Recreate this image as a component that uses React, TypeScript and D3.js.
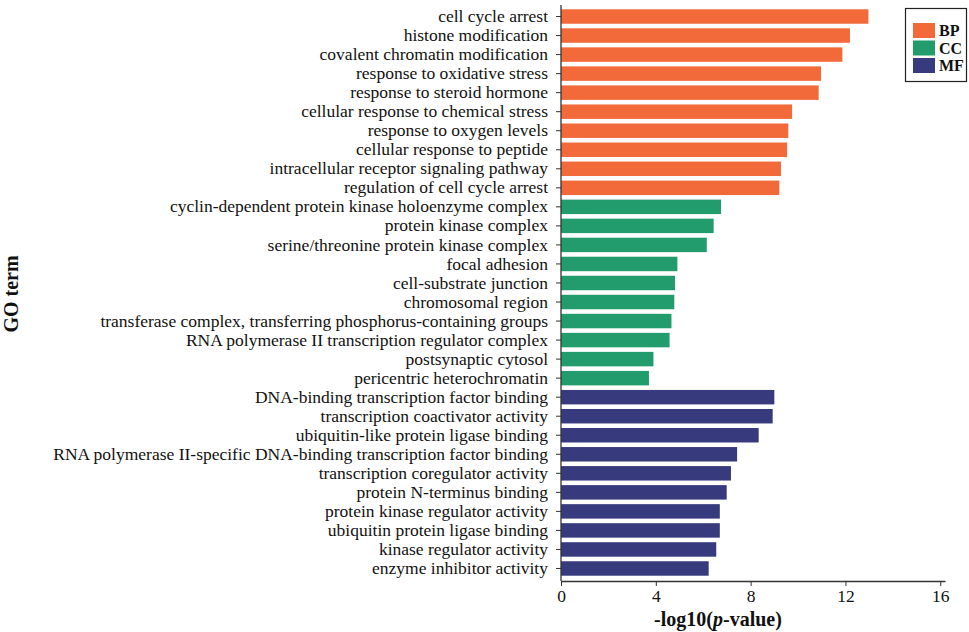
import React, { useEffect, useRef } from 'react';
import * as d3 from 'd3';

const categories = ['BP', 'CC', 'MF'];
const colors = ['#F26A3A', '#229B6D', '#373A7D'];

const bpTerms = [
  'cell cycle arrest',
  'histone modification',
  'covalent chromatin modification',
  'response to oxidative stress',
  'response to steroid hormone',
  'cellular response to chemical stress',
  'response to oxygen levels',
  'cellular response to peptide',
  'intracellular receptor signaling pathway',
  'regulation of cell cycle arrest',
];
const bpValues = [12.97, 12.19, 11.87, 10.97, 10.87, 9.75, 9.59, 9.54, 9.28, 9.21];

const ccTerms = [
  'cyclin-dependent protein kinase holoenzyme complex',
  'protein kinase complex',
  'serine/threonine protein kinase complex',
  'focal adhesion',
  'cell-substrate junction',
  'chromosomal region',
  'transferase complex, transferring phosphorus-containing groups',
  'RNA polymerase II transcription regulator complex',
  'postsynaptic cytosol',
  'pericentric heterochromatin',
];
const ccValues = [6.75, 6.44, 6.15, 4.91, 4.81, 4.78, 4.66, 4.58, 3.9, 3.71];

const mfTerms = [
  'DNA-binding transcription factor binding',
  'transcription coactivator activity',
  'ubiquitin-like protein ligase binding',
  'RNA polymerase II-specific DNA-binding transcription factor binding',
  'transcription coregulator activity',
  'protein N-terminus binding',
  'protein kinase regulator activity',
  'ubiquitin protein ligase binding',
  'kinase regulator activity',
  'enzyme inhibitor activity',
];
const mfValues = [9.0, 8.93, 8.34, 7.43, 7.17, 6.99, 6.7, 6.7, 6.55, 6.23];

const xTicks = [0, 4, 8, 12, 16];

const App: React.FC = () => {
  const svgRef = useRef<SVGSVGElement | null>(null);

  useEffect(() => {
    if (!svgRef.current) return;
    const svg = d3.select(svgRef.current);
    svg.selectAll('*').remove();

    const rows = [
      ...bpTerms.map((t, i) => ({ term: t, value: bpValues[i], cat: 'BP' })),
      ...ccTerms.map((t, i) => ({ term: t, value: ccValues[i], cat: 'CC' })),
      ...mfTerms.map((t, i) => ({ term: t, value: mfValues[i], cat: 'MF' })),
    ];

    const left = 561;
    const right = 945;
    const top = 7;
    const bottom = 578;
    const axisY = 581;

    const x = d3.scaleLinear().domain([0, 16.2]).range([left, right]);
    const y = d3.scaleBand<string>()
      .domain(rows.map(d => d.term))
      .range([top, bottom])
      .paddingInner(0.24)
      .paddingOuter(0.12);
    const color = d3.scaleOrdinal<string, string>().domain(categories).range(colors);

    const font = '"Liberation Serif", "Times New Roman", serif';

    // bars
    svg.append('g')
      .selectAll('rect')
      .data(rows)
      .enter()
      .append('rect')
      .attr('x', x(0))
      .attr('y', d => y(d.term)!)
      .attr('width', d => x(d.value) - x(0))
      .attr('height', y.bandwidth())
      .attr('fill', d => color(d.cat));

    // y axis
    const yAxis = svg.append('g')
      .attr('transform', `translate(${left},0)`)
      .call(d3.axisLeft(y).tickSize(5).tickPadding(8).tickSizeOuter(0));
    yAxis.select('.domain').attr('d', `M0,5V${axisY}`).attr('stroke', '#333').attr('stroke-width', 1.3);
    yAxis.selectAll('.tick line').attr('stroke', '#333');
    yAxis.selectAll('.tick text')
      .attr('font-family', font)
      .attr('font-size', 17.5)
      .attr('fill', '#111');

    // x axis
    const xAxis = svg.append('g')
      .attr('transform', `translate(0,${axisY})`)
      .call(d3.axisBottom(x).tickValues(xTicks).tickSize(5).tickPadding(4).tickSizeOuter(0));
    xAxis.select('.domain').attr('stroke', '#333').attr('stroke-width', 1.3);
    xAxis.selectAll('.tick line').attr('stroke', '#333');
    xAxis.selectAll('.tick text')
      .attr('font-family', font)
      .attr('font-size', 17.5)
      .attr('fill', '#111');

    // axis titles
    const xt = svg.append('text')
      .attr('x', 718)
      .attr('y', 626)
      .attr('text-anchor', 'middle')
      .attr('font-family', font)
      .attr('font-weight', 'bold')
      .attr('font-size', 20)
      .attr('fill', '#111');
    xt.append('tspan').text('-log10(');
    xt.append('tspan').attr('font-style', 'italic').text('p');
    xt.append('tspan').text('-value)');

    svg.append('text')
      .attr('transform', `translate(18,294) rotate(-90)`)
      .attr('text-anchor', 'middle')
      .attr('font-family', font)
      .attr('font-weight', 'bold')
      .attr('font-size', 20)
      .attr('fill', '#111')
      .text('GO term');

    // legend
    const lg = svg.append('g');
    lg.append('rect')
      .attr('x', 905.5)
      .attr('y', 8.5)
      .attr('width', 61)
      .attr('height', 73)
      .attr('fill', 'white')
      .attr('stroke', '#222')
      .attr('stroke-width', 1.2);
    categories.forEach((c, i) => {
      lg.append('rect')
        .attr('x', 913)
        .attr('y', 23 + i * 17.5)
        .attr('width', 22)
        .attr('height', 15)
        .attr('fill', colors[i]);
      lg.append('text')
        .attr('x', 939)
        .attr('y', 36 + i * 17.5)
        .attr('font-family', font)
        .attr('font-weight', 'bold')
        .attr('font-size', 16)
        .attr('fill', '#111')
        .text(c);
    });
  }, []);

  return (
    <svg
      ref={svgRef}
      width={969}
      height={632}
      style={{ position: 'absolute', left: 0, top: 0, display: 'block' }}
    ></svg>
  );
};

export default App;
